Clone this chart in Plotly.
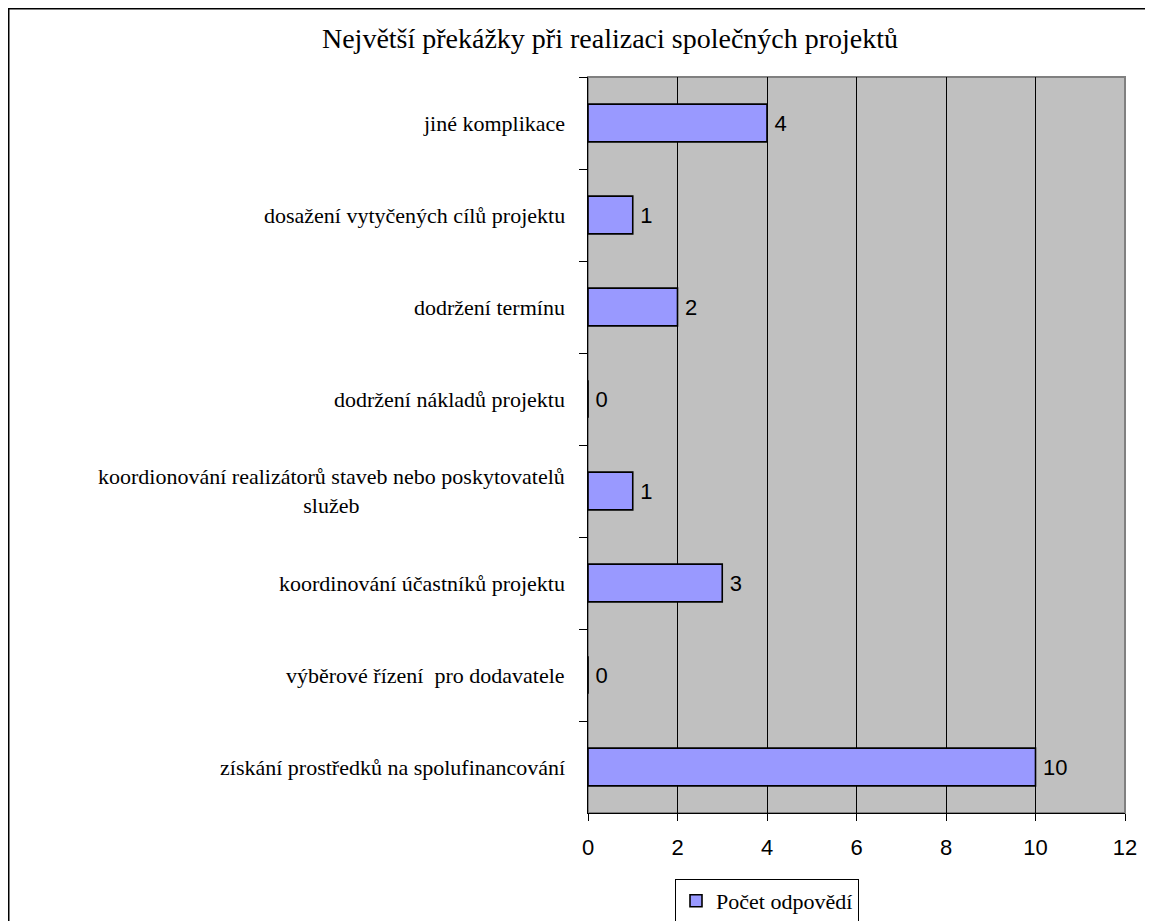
import plotly.graph_objects as go

# Categories listed top to bottom as in the chart
categories = [
    "jiné komplikace",
    "dosažení vytyčených cílů projektu",
    "dodržení termínu",
    "dodržení nákladů projektu",
    "koordionování realizátorů staveb nebo poskytovatelů<br>služeb",
    "koordinování účastníků projektu",
    "výběrové řízení  pro dodavatele",
    "získání prostředků na spolufinancování",
]
counts = [4, 1, 2, 0, 1, 3, 0, 10]
x_ticks = [0, 2, 4, 6, 8, 10, 12]

SERIF = "Liberation Serif, Times New Roman, serif"
SANS = "Liberation Sans, Arial, sans-serif"

# page has an 8px body margin, so the figure is a bit smaller than the window
W, H = 1145, 913
L, T = 580, 69
R, B = W - 1117, H - 805
pw, ph = W - L - R, H - T - B

fig = go.Figure(
    go.Bar(
        y=categories,
        x=counts,
        orientation="h",
        name="Počet odpovědí",
        marker=dict(color="#9999FF", line=dict(color="#000000", width=1.6)),
        text=["\u2009" + str(c) for c in counts],
        textposition="outside",
        textfont=dict(family=SANS, size=22, color="#000000"),
        cliponaxis=False,
        hoverinfo="x+y",
    )
)

# Category labels as annotations so the wrapped one is centred
for cat in categories:
    fig.add_annotation(
        x=0, xref="paper", y=cat, yref="y",
        text=cat, showarrow=False,
        xanchor="right", align="center", xshift=-21,
        font=dict(family=SERIF, size=22, color="#000000"),
    )

# outer chart border (right/bottom edges are cropped off in the picture)
fig.add_shape(
    type="rect", xref="paper", yref="paper",
    x0=(0 - L) / pw, x1=(W + 20 - L) / pw,
    y0=-(B + 20) / ph, y1=1 + T / ph,
    line=dict(color="#000000", width=3), layer="below",
)

fig.update_layout(
    width=W, height=H,
    margin=dict(l=L, r=R, t=T, b=B),
    paper_bgcolor="#FFFFFF",
    plot_bgcolor="#C0C0C0",
    bargap=0.59,
    title=dict(
        text="Největší překážky při realizaci společných projektů",
        font=dict(family=SERIF, size=28, color="#000000"),
        x=602 / W, xanchor="center", y=1 - 30 / H, yanchor="middle",
    ),
    showlegend=True,
    legend=dict(
        orientation="h",
        xref="container", yref="container",
        x=759 / W, xanchor="center",
        y=1 - 893 / H, yanchor="middle",
        bordercolor="#000000", borderwidth=1,
        font=dict(family=SERIF, size=22, color="#000000"),
        bgcolor="#FFFFFF",
    ),
    xaxis=dict(
        range=[0, 12], tickvals=x_ticks,
        showgrid=True, gridcolor="#000000", gridwidth=1,
        zeroline=False, showline=True, linecolor="#000000", linewidth=1,
        ticks="outside", ticklen=7, tickcolor="#000000",
        tickfont=dict(family=SANS, size=22, color="#000000"),
        ticklabelstandoff=8,
    ),
    yaxis=dict(
        autorange="reversed", showticklabels=False,
        ticks="outside", tickson="boundaries", ticklen=8, tickcolor="#000000",
        showline=True, linecolor="#000000", linewidth=1,
        showgrid=False,
    ),
)

# grey border on top/right of plot area
fig.add_shape(
    type="rect", xref="paper", yref="paper", x0=0, x1=1, y0=0, y1=1,
    line=dict(color="#808080", width=2), layer="below",
)

fig.write_html("out.html")
